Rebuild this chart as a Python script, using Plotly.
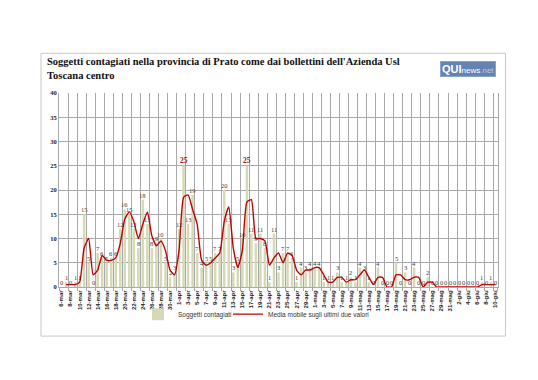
import plotly.graph_objects as go

# ---- categories (one per day, 6-mar .. 10-giu) ----
month_spans = [("mar", 6, 31), ("apr", 1, 30), ("mag", 1, 31), ("giu", 1, 10)]
dates = [f"{d}-{m}" for m, a, b in month_spans for d in range(a, b + 1)]
tick_labels = dates[::2]

cases = [
    0, 1, 0, 1, 1, 15, 5, 0, 7, 6, 5, 6, 6, 12, 16, 15,
    12, 8, 18, 13, 8, 9, 10, 5, 2, 3, 12, 25, 13, 19, 7, 4,
    5, 5, 7, 7, 20, 13, 3, 5, 10, 25, 11, 9, 11, 8, 1, 11,
    3, 7, 7, 6, 1, 4, 3, 4, 4, 4,
    1, 1, 1, 3, 1, 1, 2, 1, 4, 3, 1, 0,
    4, 0, 0, 0, 5, 0, 3, 0, 4, 0, 0, 2,
    0, 0, 0, 0, 0, 0, 0, 0, 0, 0, 0,
    1, 0, 1, 0,
]

# ---- moving average over the last two values (red line) ----
media = [
    None, 0.5, 0.5, 0.5, 1, 8, 10, 2.5, 3.5, 6.5, 5.5, 5.5, 6, 9, 14, 15.5,
    13.5, 10, 13, 15.5, 10.5, 8.5, 9.5, 7.5, 3.5, 2.5, 7.5, 18.5, 19, 16, 13, 5.5,
    4.5, 5, 6, 7, 13.5, 16.5, 8, 4, 7.5, 17.5, 18, 10, 10, 9.5, 4.5, 6,
    7, 5, 7, 6.5, 3.5, 2.5, 3.5, 3.5, 4, 4,
    2.5, 1, 1, 2, 2, 1, 1.5, 1.5, 2.5, 3.5, 2, 0.5,
    2, 2, 0, 0, 2.5, 2.5, 1.5, 1.5, 2, 2, 0, 1,
    1, 0, 0, 0, 0, 0, 0, 0, 0, 0, 0,
    0.5, 0.5, 0.5, 0.5,
]

y_ticks = [0, 5, 10, 15, 20, 25, 30, 35, 40]

BAR_COLOR = "#d5d9b5"
LINE_COLOR = "#c00000"
GRID = "#a9a9a9"

fig = go.Figure()
fig.add_bar(
    x=dates, y=cases, name="Soggetti contagiati", legend="legend",
    marker=dict(color=BAR_COLOR, line=dict(width=0)), width=0.55,
)
fig.add_scatter(
    x=dates, y=media, name="Media mobile sugli ultimi due valori", legend="legend2",
    mode="lines", line=dict(color=LINE_COLOR, width=1.4, shape="spline", smoothing=0.5),
)

top_val = max(cases)
annotations = []
for d, v in zip(dates, cases):
    is_max = v == top_val
    annotations.append(dict(
        x=d, y=v, xref="x", yref="y", text=str(v), showarrow=False,
        yanchor="bottom", yshift=0, borderpad=0,
        font=dict(family="Liberation Serif", size=7.5 if is_max else 6.5,
                  color="#a01010" if is_max else "#404040",
                  weight="bold" if is_max else "normal"),
    ))

# title
annotations.append(dict(
    xref="paper", yref="paper", x=-0.032, y=1.2, xanchor="left", yanchor="top",
    align="left", showarrow=False,
    text="<b>Soggetti contagiati nella provincia di Prato come dai bollettini dell'Azienda Usl<br>Toscana centro</b>",
    font=dict(family="Liberation Serif", size=10.5, color="#111111"),
))
# logo
annotations.append(dict(
    xref="paper", yref="paper", x=0.932, y=1.125, xanchor="center", yanchor="middle",
    showarrow=False, bgcolor="#6483b3", bordercolor="#8aa3c8", borderwidth=1, borderpad=1,
    text="<b>QUI</b><span style='font-size:8px'>news</span><span style='font-size:8px;color:#b9cbe6'>.net</span>",
    font=dict(family="Liberation Sans", size=11, color="white"),
))

legend_common = dict(
    orientation="h", yanchor="middle", xanchor="left",
    font=dict(family="Liberation Sans", size=6.5, color="#333333"),
    itemwidth=30, bgcolor="rgba(0,0,0,0)",
)

fig.update_layout(
    width=538, height=380,
    margin=dict(l=51, r=48, t=85, b=101),
    paper_bgcolor="white", plot_bgcolor="white",
    showlegend=True,
    legend=dict(x=0.18, y=-0.14, **legend_common),
    legend2=dict(x=0.385, y=-0.14, **legend_common),
    bargap=0.4,
    annotations=annotations,
    shapes=[dict(
        type="rect", xref="paper", yref="paper",
        x0=-0.041, x1=1.017, y0=-0.253, y1=1.205,
        line=dict(color="#c8c8c8", width=1), fillcolor="rgba(0,0,0,0)", layer="below",
    )],
)

fig.update_xaxes(
    type="category", categoryorder="array", categoryarray=dates,
    tickmode="array", tickvals=tick_labels, ticktext=tick_labels,
    tickson="boundaries", showgrid=True, gridcolor=GRID, gridwidth=1,
    ticks="outside", ticklen=3, tickcolor=GRID, tickangle=-90,
    tickfont=dict(family="Liberation Sans", size=6, color="#222222", weight="bold"),
    showline=True, linecolor=GRID, zeroline=False,
)
fig.update_yaxes(
    range=[0, 40], tickmode="array", tickvals=y_ticks,
    showgrid=True, gridcolor=GRID, gridwidth=1,
    showline=True, mirror=True, linecolor=GRID, zeroline=False,
    ticks="", tickfont=dict(family="Liberation Serif", size=6.5, color="#222222", weight="bold"),
)

fig.write_html("out.html")
